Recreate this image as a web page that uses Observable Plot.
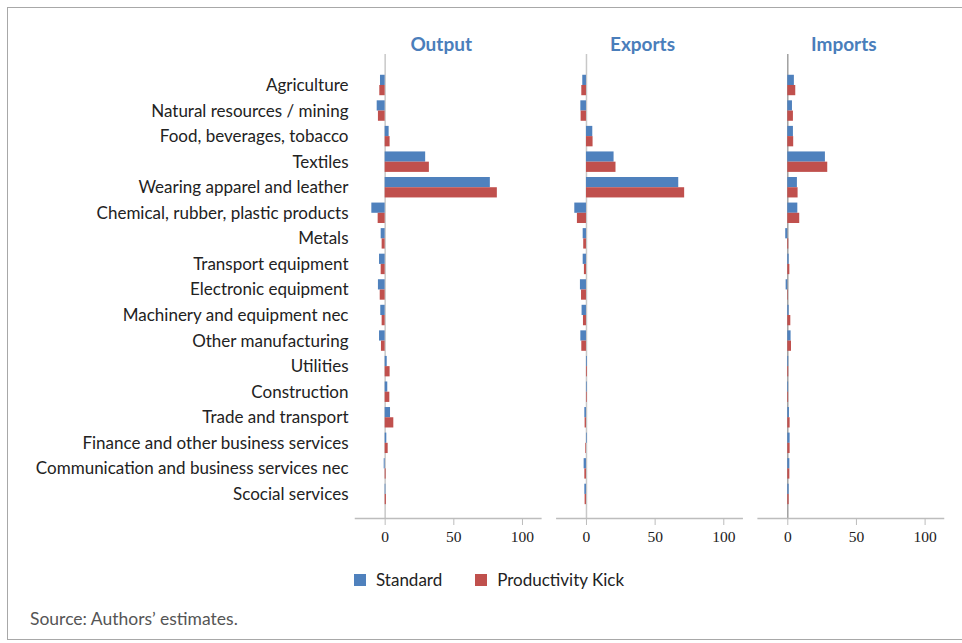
<!DOCTYPE html>
<html>
<head>
<meta charset="utf-8">
<script src="https://cdn.jsdelivr.net/npm/d3@7"></script>
<script src="https://cdn.jsdelivr.net/npm/@observablehq/plot@0.6"></script>
<style>
  html, body { margin: 0; padding: 0; background: #fff; width: 962px; height: 643px; overflow: hidden; }
  #frame { position: absolute; left: 7px; top: 7px; width: 1000px; height: 633px; border: 1.5px solid #a8a8a8; box-sizing: border-box; }
  #chart { position: absolute; left: 0; top: 0; }
  #legend { position: absolute; left: 354px; top: 569px; font-family: "Lato", sans-serif; font-size: 17px; line-height: 22px; color: #222; display: flex; align-items: center; }
  #legend .sw { display: inline-block; width: 12px; height: 12px; margin-right: 10px; }
  #legend .item { display: flex; align-items: center; margin-right: 33px; }
  #source { position: absolute; left: 30px; top: 607px; font-family: "Lato", sans-serif; font-size: 17.5px; line-height: 24px; color: #555; }
</style>
</head>
<body>
<div id="frame"></div>
<div id="chart"></div>
<div id="legend"></div>
<div id="source">Source: Authors’ estimates.</div>
<script>
const categories = [
  "Agriculture",
  "Natural resources / mining",
  "Food, beverages, tobacco",
  "Textiles",
  "Wearing apparel and leather",
  "Chemical, rubber, plastic products",
  "Metals",
  "Transport equipment",
  "Electronic equipment",
  "Machinery and equipment nec",
  "Other manufacturing",
  "Utilities",
  "Construction",
  "Trade and transport",
  "Finance and other business services",
  "Communication and business services nec",
  "Scocial services"
];
const panels = ["Output", "Exports", "Imports"];
const seriesNames = ["Standard", "Productivity Kick"];
const seriesColors = ["#4f81bd", "#c0504d"];

const outputStandard = [-3.4, -5.8, 2.9, 29.5, 76.6, -9.7, -2.9, -4.1, -4.9, -3.2, -4.1, 1.5, 1.9, 3.9, 1.2, -0.7, 0.5];
const outputKick     = [-3.9, -4.9, 3.6, 32.2, 81.7, -5.1, -2.2, -2.9, -3.6, -2.2, -2.7, 3.6, 3.4, 6.3, 2.2, 0.7, 0.9];
const exportsStandard = [-2.7, -4.1, 4.6, 20.1, 67.2, -8.5, -2.4, -2.4, -4.4, -3.2, -4.1, 0.6, 0.5, -1.2, 0.5, -1.7, -1.2];
const exportsKick     = [-3.4, -3.9, 4.8, 21.5, 71.5, -6.6, -2.0, -1.5, -3.6, -2.2, -3.4, 0.6, 0.5, -1.0, -0.5, -1.2, -1.0];
const importsStandard = [4.8, 3.4, 4.1, 27.4, 7.0, 7.3, -1.5, 1.0, -1.2, 1.0, 2.4, 0.7, 0.6, 1.2, 1.7, 1.5, 1.0];
const importsKick     = [5.8, 4.1, 4.3, 29.1, 7.5, 8.7, 0.7, 1.5, 0.4, 2.2, 2.7, 0.7, 0.6, 1.7, 1.7, 1.5, 1.0];
const xTicks = [0, 50, 100];

const valuesByPanel = {
  Output: [outputStandard, outputKick],
  Exports: [exportsStandard, exportsKick],
  Imports: [importsStandard, importsKick]
};
const rows = [];
for (const p of panels) {
  valuesByPanel[p].forEach((arr, si) => {
    arr.forEach((v, i) => rows.push({panel: p, series: seriesNames[si], category: categories[i], value: v}));
  });
}

const step = 464 / (17 - 0.2 + 2 * 0.677);
const half = step * 0.8 / 2;

const plot = Plot.plot({
  width: 962,
  height: 560,
  marginTop: 54,
  marginBottom: 42,
  marginLeft: 355,
  marginRight: 19,
  style: {fontFamily: "Lato, sans-serif", fontSize: "17px", color: "#222", background: "transparent"},
  fx: {domain: panels, axis: null, paddingInner: 0.0792, paddingOuter: 0, round: false},
  y: {domain: categories, paddingInner: 0.2, paddingOuter: 0.677, align: 0.6, round: false, axis: null},
  x: {domain: [-21.6, 113.4], axis: null},
  marks: [
    Plot.ruleX(panels, {fx: d => d, x: () => 0, stroke: (d) => d === "Imports" ? "#a0a0a0" : "#c8c8c8", strokeWidth: 1.5}),
    Plot.barX(rows.filter(d => d.series === seriesNames[0]), {fx: "panel", y: "category", x: "value", fill: seriesColors[0], insetBottom: half}),
    Plot.barX(rows.filter(d => d.series === seriesNames[1]), {fx: "panel", y: "category", x: "value", fill: seriesColors[1], insetTop: half}),
    Plot.frame({anchor: "bottom", stroke: "#bdbdbd", strokeWidth: 1.5}),
    Plot.axisX({ticks: xTicks, tickSize: 7, tickPadding: 5, stroke: "#bdbdbd", fontFamily: "Liberation Serif, serif", fontSize: 15.5, fill: "#222", label: null}),
    Plot.axisY({tickSize: 0, tickPadding: 7, fontSize: 17, fill: "#222", label: null}),
    Plot.text(panels, {fx: d => d, text: d => d, frameAnchor: "top", lineAnchor: "middle", dy: -10, dx: -7, fill: "#4a7ebb", fontWeight: "bold", fontSize: 19})
  ]
});
document.getElementById("chart").appendChild(plot);

const legend = document.getElementById("legend");
seriesNames.forEach((name, i) => {
  const item = document.createElement("span");
  item.className = "item";
  const sw = document.createElement("span");
  sw.className = "sw";
  sw.style.background = seriesColors[i];
  item.appendChild(sw);
  item.appendChild(document.createTextNode(name));
  legend.appendChild(item);
});
</script>
</body>
</html>
